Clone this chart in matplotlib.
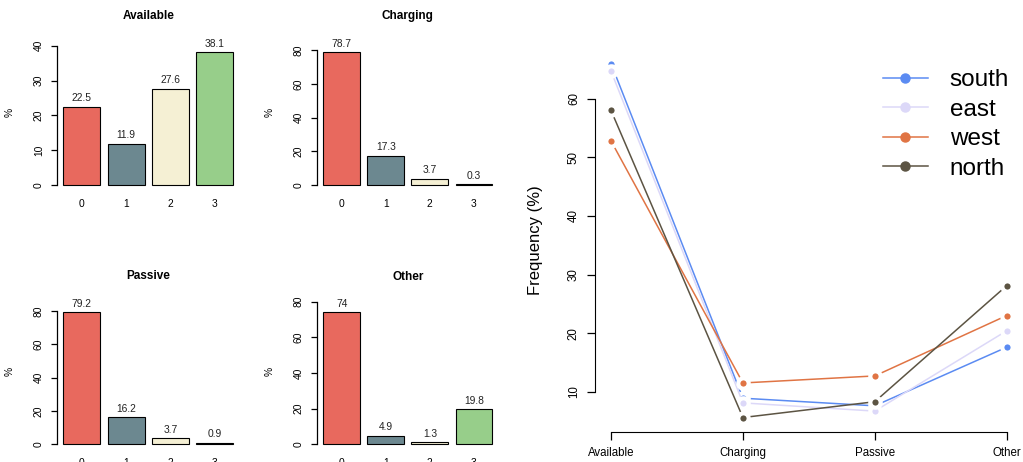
import numpy as np
import matplotlib
matplotlib.use("Agg")
import matplotlib.pyplot as plt
from matplotlib.lines import Line2D

plt.rcParams["font.family"] = ["Liberation Sans", "DejaVu Sans"]

# bar panels: share of stations with 0..3 in each state
levels = ["0", "1", "2", "3"]
available = [22.5, 11.9, 27.6, 38.1]
charging = [78.7, 17.3, 3.7, 0.3]
passive = [79.2, 16.2, 3.7, 0.9]
other = [74, 4.9, 1.3, 19.8]
bar_colors = ["#E8695E", "#6C8890", "#F5F0D4", "#97CE8A"]

# line panel: frequency by region
states = ["Available", "Charging", "Passive", "Other"]
south = [66.0, 8.9, 7.6, 17.6]
east = [64.7, 8.1, 6.7, 20.4]
west = [52.8, 11.5, 12.7, 23.0]
north = [58.0, 5.6, 8.3, 28.1]
regions = ["south", "east", "west", "north"]
region_colors = ["#5B8BF2", "#DCD8F8", "#E07444", "#5C5443"]

W, H = 1023, 462
fig = plt.figure(figsize=(W / 100, H / 100), dpi=100)


def px_axes(x0, x1, y0, y1):
    # pixel box (top-left origin) -> figure axes
    return fig.add_axes([x0 / W, 1 - y1 / H, (x1 - x0) / W, (y1 - y0) / H])


def bar_panel(box, title, vals, step):
    ax = px_axes(*box)
    xs = 0.2 + np.arange(len(vals)) * 1.2 + 0.5
    ax.bar(xs, vals, width=1.0, color=bar_colors, edgecolor="black", linewidth=0.8)
    for x, v in zip(xs, vals):
        ax.annotate(f"{v:g}", (x, v), xytext=(0, 2.5), textcoords="offset points",
                    ha="center", va="bottom", fontsize=7.4, color="#222222")
    hi = 1.1 * max(vals)
    ax.set_ylim(-0.04 * hi, 1.04 * hi)
    ax.set_xlim(0.2 - 0.184, 4.8 + 0.184)
    ticks = np.arange(0, hi + 1e-9, step)
    ax.set_yticks(ticks)
    ax.set_xticks(xs)
    ax.set_xticklabels(levels)
    for s in ("top", "right", "bottom"):
        ax.spines[s].set_visible(False)
    ax.spines["left"].set_bounds(ticks[0], ticks[-1])
    ax.spines["left"].set_linewidth(0.9)
    ax.tick_params(axis="y", length=4, width=0.9, pad=5, labelsize=7.4)
    ax.tick_params(axis="x", length=0, pad=6, labelsize=7.4)
    for lab in ax.get_yticklabels():
        lab.set_rotation(90)
        lab.set_va("center")
    ax.set_ylabel("%", fontsize=7.4)
    ax.yaxis.set_label_coords(-0.23, 0.5)
    ax.set_title(title, fontsize=8.5, fontweight="bold", pad=10)
    ax.patch.set_alpha(0)
    return ax


bar_panel((56.5, 240.1, 33.2, 190.8), "Available", available, 10)
bar_panel((316.5, 499.1, 33.2, 190.8), "Charging", charging, 20)
bar_panel((56.5, 240.1, 293.3, 450.1), "Passive", passive, 20)
bar_panel((316.5, 499.1, 293.4, 450.1), "Other", other, 20)

# line panel
ax = px_axes(595.2, 1022.5, 49.4, 431.7)
xs = np.arange(1, len(states) + 1)
allv = south + east + west + north
rng = max(allv) - min(allv)
ax.set_ylim(min(allv) - 0.04 * rng, max(allv) + 0.04 * rng)
ax.set_xlim(1 - 0.12, 4 + 0.12)
for name, vals, c in zip(regions, [south, east, west, north], region_colors):
    ax.plot(xs, vals, color=c, lw=1.1, marker="o", ms=7.5, mfc=c,
            mec="white", mew=3, label=name)
ax.set_xticks(xs)
ax.set_xticklabels(states)
ax.set_yticks([10, 20, 30, 40, 50, 60])
for s in ("top", "right"):
    ax.spines[s].set_visible(False)
ax.spines["left"].set_bounds(10, 60)
ax.spines["bottom"].set_bounds(1, 4)
ax.tick_params(axis="both", length=6, width=0.9, labelsize=8.3)
ax.tick_params(axis="x", pad=5)
ax.tick_params(axis="y", pad=5)
for lab in ax.get_yticklabels():
    lab.set_rotation(90)
    lab.set_va("center")
ax.set_ylabel("Frequency (%)", fontsize=12)
ax.yaxis.set_label_coords(-0.122, 0.5)
ax.patch.set_alpha(0)

handles = [Line2D([], [], color=c, lw=1.1, marker="o", ms=6.5) for c in region_colors]
fig.legend(handles, regions, loc="upper left", bbox_to_anchor=(883 / W, 1 - 69 / H),
           frameon=False, fontsize=17.5, handlelength=1.85, handletextpad=0.9,
           labelspacing=0.31, borderpad=0, borderaxespad=0)

fig.savefig("out.png", dpi=100)
